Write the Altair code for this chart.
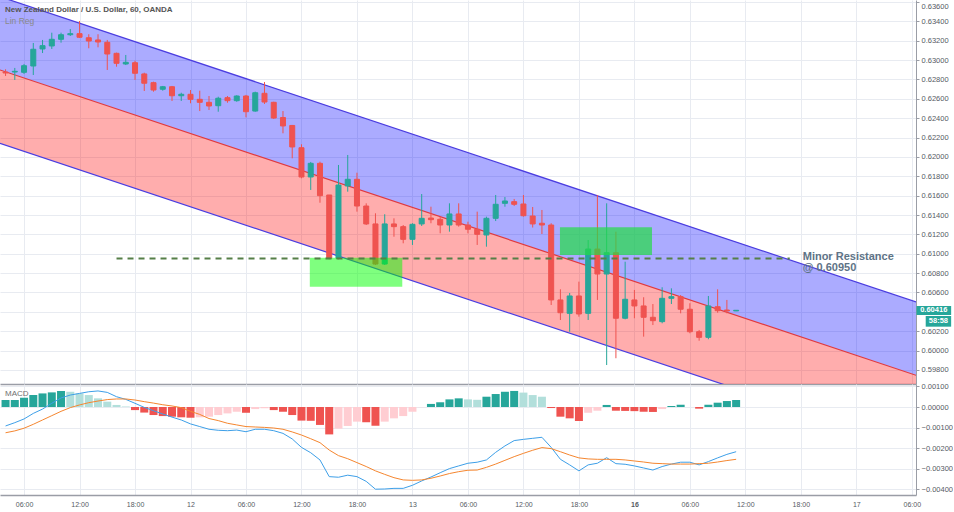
import altair as alt
import pandas as pd

FONT = "Liberation Sans"
UP = "#26a69a"
DN = "#ef5350"
GRID = "#e8ebf1"
AXC = "#9a9da6"
LBL = "#555a63"

title_text = "New Zealand Dollar / U.S. Dollar, 60, OANDA"
ind_text = "Lin Reg"
macd_text = "MACD"
res_text1 = "Minor Resistance"
res_text2 = "@ 0.60950"
last_price_text = "0.60416"
countdown_text = "58:58"

# ---- candles (hourly bars, index 0 = 11 Dec 04:00) ----
bar_index = list(range(80))
opens = [0.62877, 0.62877, 0.62874, 0.62939, 0.63115, 0.63146, 0.63215, 0.63262, 0.63273, 0.63231,
         0.63208, 0.63184, 0.63070, 0.62960, 0.62973, 0.62857, 0.62767, 0.62699, 0.62725, 0.62632,
         0.62647, 0.62595, 0.62564, 0.62529, 0.62612, 0.62581, 0.62629, 0.62474, 0.62657, 0.62564,
         0.62407, 0.62325, 0.62095, 0.61793, 0.61934, 0.61607, 0.60953, 0.61700, 0.61769, 0.61493,
         0.61308, 0.60894, 0.61308, 0.61280, 0.61149, 0.61308, 0.61369, 0.61356, 0.61297, 0.61411,
         0.61297, 0.61253, 0.61194, 0.61366, 0.61521, 0.61538, 0.61514, 0.61390, 0.61315, 0.61297,
         0.60523, 0.60385, 0.60564, 0.60385, 0.61049, 0.60791, 0.61011, 0.60334, 0.60523, 0.60461,
         0.60344, 0.60299, 0.60540, 0.60557, 0.60427, 0.60195, 0.60137, 0.60453, 0.60419, 0.60410]
highs = [0.62905, 0.62919, 0.62960, 0.63177, 0.63208, 0.63283, 0.63283, 0.63321, 0.63404, 0.63267,
         0.63267, 0.63208, 0.63077, 0.63053, 0.62994, 0.62870, 0.62777, 0.62733, 0.62733, 0.62663,
         0.62691, 0.62684, 0.62629, 0.62622, 0.62629, 0.62637, 0.62640, 0.62674, 0.62774, 0.62570,
         0.62474, 0.62330, 0.62131, 0.61948, 0.61951, 0.61607, 0.61917, 0.62020, 0.61837, 0.61521,
         0.61418, 0.61408, 0.61366, 0.61297, 0.61315, 0.61617, 0.61486, 0.61383, 0.61521, 0.61521,
         0.61331, 0.61435, 0.61383, 0.61607, 0.61586, 0.61566, 0.61607, 0.61483, 0.61452, 0.61315,
         0.60633, 0.60595, 0.60712, 0.61142, 0.61607, 0.61521, 0.61228, 0.60918, 0.60626, 0.60551,
         0.60481, 0.60654, 0.60643, 0.60574, 0.60489, 0.60213, 0.60564, 0.60633, 0.60523, 0.60418]
lows = [0.62836, 0.62795, 0.62857, 0.62846, 0.63073, 0.63115, 0.63180, 0.63249, 0.63228, 0.63122,
        0.63132, 0.62898, 0.62932, 0.62949, 0.62795, 0.62681, 0.62674, 0.62684, 0.62578, 0.62578,
        0.62554, 0.62474, 0.62485, 0.62467, 0.62560, 0.62570, 0.62409, 0.62467, 0.62547, 0.62392,
        0.62244, 0.61986, 0.61779, 0.61659, 0.61527, 0.60943, 0.60943, 0.61641, 0.61435, 0.61297,
        0.60884, 0.60884, 0.61176, 0.61108, 0.61091, 0.61287, 0.61315, 0.61211, 0.61228, 0.61280,
        0.61211, 0.61091, 0.61073, 0.61338, 0.61486, 0.61493, 0.61383, 0.61271, 0.61204, 0.60471,
        0.60316, 0.60195, 0.60350, 0.60316, 0.60523, 0.59851, 0.59921, 0.60323, 0.60334, 0.60144,
        0.60264, 0.60282, 0.60481, 0.60385, 0.60179, 0.60102, 0.60117, 0.60391, 0.60385, 0.60408]
closes = [0.62867, 0.62884, 0.62942, 0.63112, 0.63149, 0.63215, 0.63262, 0.63273, 0.63236, 0.63197,
          0.63187, 0.63063, 0.62967, 0.62977, 0.62864, 0.62761, 0.62691, 0.62725, 0.62632, 0.62647,
          0.62595, 0.62564, 0.62526, 0.62606, 0.62581, 0.62629, 0.62467, 0.62663, 0.62567, 0.62402,
          0.62320, 0.62103, 0.61793, 0.61934, 0.61600, 0.60953, 0.61710, 0.61769, 0.61493, 0.61308,
          0.60894, 0.61308, 0.61280, 0.61149, 0.61304, 0.61366, 0.61352, 0.61297, 0.61411, 0.61297,
          0.61253, 0.61201, 0.61366, 0.61511, 0.61545, 0.61511, 0.61393, 0.61308, 0.61297, 0.60523,
          0.60391, 0.60564, 0.60378, 0.61049, 0.60791, 0.61011, 0.60334, 0.60530, 0.60461, 0.60344,
          0.60309, 0.60540, 0.60557, 0.60427, 0.60195, 0.60137, 0.60461, 0.60412, 0.60409, 0.60416]

# ---- MACD panel ----
hist = [0.00034, 0.00034, 0.00045, 0.00058, 0.00066, 0.00071, 0.00078, 0.00074, 0.00066, 0.00058,
        0.00042, 0.00026, 0.00010, 0.00003, -0.00015, -0.00027, -0.00039, -0.00044, -0.00047, -0.00050,
        -0.00052, -0.00050, -0.00047, -0.00039, -0.00031, -0.00023, -0.00028, -0.00010, -0.00006, -0.00015,
        -0.00023, -0.00039, -0.00066, -0.00067, -0.00087, -0.00133, -0.00105, -0.00092, -0.00071, -0.00074,
        -0.00091, -0.00071, -0.00055, -0.00044, -0.00023, -0.00001, 0.00015, 0.00023, 0.00037, 0.00042,
        0.00037, 0.00035, 0.00050, 0.00063, 0.00074, 0.00078, 0.00070, 0.00058, 0.00050, -0.00005,
        -0.00047, -0.00055, -0.00068, -0.00028, -0.00018, 0.00010, -0.00018, -0.00019, -0.00020, -0.00023,
        -0.00024, -0.00010, 0.00005, 0.00011, 0.00000, -0.00008, 0.00011, 0.00021, 0.00029, 0.00034]
macd = [-0.00092, -0.00076, -0.00058, -0.00031, -0.00010, 0.00018, 0.00044, 0.00058, 0.00066, 0.00074,
        0.00078, 0.00071, 0.00050, 0.00037, 0.00018, -0.00002, -0.00018, -0.00034, -0.00049, -0.00063,
        -0.00082, -0.00095, -0.00108, -0.00113, -0.00115, -0.00112, -0.00120, -0.00108, -0.00108, -0.00115,
        -0.00128, -0.00155, -0.00196, -0.00222, -0.00257, -0.00338, -0.00341, -0.00331, -0.00338, -0.00361,
        -0.00399, -0.00398, -0.00395, -0.00395, -0.00380, -0.00359, -0.00340, -0.00319, -0.00299, -0.00286,
        -0.00273, -0.00268, -0.00257, -0.00220, -0.00189, -0.00163, -0.00157, -0.00152, -0.00147, -0.00196,
        -0.00254, -0.00281, -0.00310, -0.00281, -0.00273, -0.00246, -0.00275, -0.00278, -0.00286, -0.00296,
        -0.00306, -0.00289, -0.00277, -0.00268, -0.00268, -0.00281, -0.00265, -0.00247, -0.00230, -0.00217]
signal = [-0.00125, -0.00116, -0.00103, -0.00084, -0.00063, -0.00042, -0.00021, -0.00003, 0.00010, 0.00021,
          0.00029, 0.00036, 0.00039, 0.00039, 0.00034, 0.00026, 0.00019, 0.00011, 0.00005, -0.00003,
          -0.00021, -0.00036, -0.00056, -0.00066, -0.00079, -0.00087, -0.00095, -0.00097, -0.00099, -0.00102,
          -0.00108, -0.00121, -0.00136, -0.00154, -0.00173, -0.00209, -0.00236, -0.00251, -0.00270, -0.00289,
          -0.00310, -0.00327, -0.00343, -0.00354, -0.00356, -0.00354, -0.00346, -0.00335, -0.00323, -0.00314,
          -0.00307, -0.00306, -0.00293, -0.00277, -0.00259, -0.00241, -0.00225, -0.00210, -0.00197, -0.00202,
          -0.00217, -0.00233, -0.00247, -0.00252, -0.00254, -0.00254, -0.00254, -0.00257, -0.00262, -0.00267,
          -0.00273, -0.00275, -0.00277, -0.00277, -0.00277, -0.00275, -0.00273, -0.00267, -0.00260, -0.00254]

# ---- axes ----
tick_idx = [2, 8, 14, 20, 26, 32, 38, 44, 50, 56, 62, 68, 74, 80, 86, 92, 98]
tick_lbl = ["06:00", "12:00", "18:00", "12", "06:00", "12:00", "18:00", "13", "06:00",
            "12:00", "18:00", "16", "06:00", "12:00", "18:00", "17", "06:00"]
price_ticks = [0.598, 0.600, 0.602, 0.604, 0.606, 0.608, 0.610, 0.612, 0.614, 0.616,
               0.618, 0.620, 0.622, 0.624, 0.626, 0.628, 0.630, 0.632, 0.634, 0.636]
hidden_price_tick = 0.604  # covered by the last-price marker
macd_ticks = [-0.004, -0.003, -0.002, -0.001, 0.0, 0.001]

# ---- linear regression channel (two end points) ----
chan_x = [-0.6, 98.45]
chan_upper = [0.63655, 0.60502]
chan_mid = [0.62898, 0.59745]
chan_lower = [0.62141, 0.58988]

# ---- annotations ----
zone1 = {"x1": 32.9, "x2": 42.9, "lo": 0.60660, "hi": 0.60960}
zone2 = {"x1": 59.95, "x2": 69.9, "lo": 0.60987, "hi": 0.61273}
res_level = 0.6095
res_x = [12.0, 84.8]
res_label_x = 86.2
res_label_y = [0.60936, 0.60820]
last_price = 0.60416
box1 = {"x1": 98.5, "x2": 102.25, "lo": 0.60368, "hi": 0.60461, "xm": 100.37}
box2 = {"x1": 99.5, "x2": 102.25, "lo": 0.60247, "hi": 0.60357, "xm": 100.87, "ym": 0.60302}

xs = alt.Scale(domain=[-0.6, 98.45], nice=False, zero=False, padding=0)
ys = alt.Scale(domain=[0.59655, 0.636207], nice=False, zero=False, padding=0)
ms = alt.Scale(domain=[-0.004272, 0.001117], nice=False, zero=False, padding=0)

W = 916

XT = alt.Axis(values=tick_idx, labels=False, ticks=False, domain=True, domainColor=AXC,
              domainWidth=1.5, grid=True, gridColor=GRID, gridWidth=1, title=None)
YT = alt.Axis(orient="right", values=price_ticks, title=None, grid=True,
              labelExpr=f"abs(datum.value - {hidden_price_tick}) < 0.00001 ? '' : format(datum.value, '.5f')",
              gridColor=GRID, domain=True, domainColor=AXC, tickColor=AXC, tickSize=3,
              labelPadding=2, labelFontSize=7.5, labelColor=LBL, labelFont=FONT,
              labelOverlap=False, labelFlush=4)


def px(field):
    return alt.X(field, type="quantitative", scale=xs, axis=XT)


def py(field):
    return alt.Y(field, type="quantitative", scale=ys, axis=YT)


# ---- top panel ----
cdf = pd.DataFrame({"i": bar_index, "o": opens, "h": highs, "l": lows, "c": closes})
cdf["col"] = [UP if c >= o else DN for o, c in zip(opens, closes)]

band_df = pd.DataFrame({"x": chan_x, "upper": chan_upper, "mid": chan_mid, "lower": chan_lower})
upper_band = alt.Chart(band_df).mark_area(color="#0000ff", opacity=0.33, clip=True).encode(
    x=px("x"), y=py("upper"), y2=alt.Y2("mid"))
lower_band = alt.Chart(band_df).mark_area(color="#ff0000", opacity=0.32, clip=True).encode(
    x=px("x"), y=py("mid"), y2=alt.Y2("lower"))

line_df = pd.DataFrame({"x1": [chan_x[0]] * 3, "x2": [chan_x[1]] * 3,
                        "y1": [chan_upper[0], chan_mid[0], chan_lower[0]],
                        "y2": [chan_upper[1], chan_mid[1], chan_lower[1]],
                        "col": ["#4a3ce0", "#e0393e", "#4a3ce0"]})
chan_lines = alt.Chart(line_df).mark_rule(strokeWidth=1.2, clip=True).encode(
    x=px("x1"), x2=alt.X2("x2"), y=py("y1"), y2=alt.Y2("y2"),
    color=alt.Color("col:N", scale=None))

wicks = alt.Chart(cdf).mark_rule(strokeWidth=1).encode(
    x=px("i"), y=py("l"), y2=alt.Y2("h"), color=alt.Color("col:N", scale=None))
bodies = alt.Chart(cdf).mark_bar(size=5, strokeWidth=1).encode(
    x=px("i"), y=py("o"), y2=alt.Y2("c"),
    color=alt.Color("col:N", scale=None), stroke=alt.Stroke("col:N", scale=None))

z1 = alt.Chart(pd.DataFrame([zone1])).mark_rect(color="#00ff00", opacity=0.5).encode(
    x=px("x1"), x2=alt.X2("x2"), y=py("lo"), y2=alt.Y2("hi"))
z2 = alt.Chart(pd.DataFrame([zone2])).mark_rect(color="#22dd44", opacity=0.7).encode(
    x=px("x1"), x2=alt.X2("x2"), y=py("lo"), y2=alt.Y2("hi"))

res_df = pd.DataFrame({"x1": [res_x[0]], "x2": [res_x[1]], "y": [res_level]})
res_line = alt.Chart(res_df).mark_rule(strokeDash=[6, 5], strokeWidth=2, color="#557f48").encode(
    x=px("x1"), x2=alt.X2("x2"), y=py("y"))

res_lbl_df = pd.DataFrame({"x": [res_label_x, res_label_x], "y": res_label_y, "t": [res_text1, res_text2]})
res_lbl = alt.Chart(res_lbl_df).mark_text(align="left", baseline="alphabetic", font=FONT, fontSize=11,
                                          fontWeight="bold", color="#5e7386").encode(
    x=px("x"), y=py("y"), text="t:N")

b1 = alt.Chart(pd.DataFrame([box1])).mark_rect(color=UP, clip=False).encode(
    x=px("x1"), x2=alt.X2("x2"), y=py("lo"), y2=alt.Y2("hi"))
b1t = alt.Chart(pd.DataFrame({"x": [box1["xm"]], "y": [last_price], "t": [last_price_text]})).mark_text(
    font=FONT, fontSize=7.5, fontWeight="bold", color="white", clip=False).encode(
    x=px("x"), y=py("y"), text="t:N")
b2 = alt.Chart(pd.DataFrame([box2])).mark_rect(color=UP, clip=False).encode(
    x=px("x1"), x2=alt.X2("x2"), y=py("lo"), y2=alt.Y2("hi"))
b2t = alt.Chart(pd.DataFrame({"x": [box2["xm"]], "y": [box2["ym"]], "t": [countdown_text]})).mark_text(
    font=FONT, fontSize=7.5, fontWeight="bold", color="white", clip=False).encode(
    x=px("x"), y=py("y"), text="t:N")

title_mark = alt.Chart(pd.DataFrame({"t": [title_text]})).mark_text(
    align="left", baseline="middle", font=FONT, fontSize=8, fontWeight="bold", color="#555555").encode(
    x=alt.value(5), y=alt.value(10), text="t:N")
ind_mark = alt.Chart(pd.DataFrame({"t": [ind_text]})).mark_text(
    align="left", baseline="middle", font=FONT, fontSize=8.5, color="#8a8a8a").encode(
    x=alt.value(5), y=alt.value(21), text="t:N")

top = alt.layer(upper_band, lower_band, chan_lines, wicks, bodies, z1, z2, res_line, res_lbl,
                b1, b1t, b2, b2t, title_mark, ind_mark).properties(width=W, height=384)

# ---- MACD panel ----
hcol = []
for k, v in enumerate(hist):
    prev = hist[k - 1] if k > 0 else v
    if v >= 0:
        hcol.append("#26a69a" if v >= prev else "#b2dfdb")
    else:
        hcol.append("#ef5350" if v <= prev else "#ffcdd2")
mdf = pd.DataFrame({"i": bar_index, "hist": hist, "zero": [0.0] * len(hist), "col": hcol,
                    "macd": macd, "signal": signal})

labels_js = "[" + ",".join("'%s'" % s for s in tick_lbl) + "]"
values_js = "[" + ",".join(str(v) for v in tick_idx) + "]"
XB = alt.Axis(values=tick_idx, labelExpr=f"{labels_js}[indexof({values_js}, datum.value)]",
              grid=True, gridColor=GRID, domain=True, domainColor=AXC, domainWidth=1.5,
              ticks=False, tickSize=0, labelPadding=5, labelFontSize=7, labelColor=LBL,
              labelFont=FONT, labelFlush=False, labelOverlap=False, title=None,
              labelFontWeight=alt.condition("datum.value == 68", alt.value("bold"), alt.value("normal")))
YB = alt.Axis(orient="right", values=macd_ticks, format=".5f", title=None, grid=True,
              gridColor=GRID, domain=True, domainColor=AXC, tickColor=AXC, tickSize=3,
              labelPadding=2, labelFontSize=7.5, labelColor=LBL, labelFont=FONT,
              labelOverlap=False)


def mx(field):
    return alt.X(field, type="quantitative", scale=xs, axis=XB)


def my(field):
    return alt.Y(field, type="quantitative", scale=ms, axis=YB)


hbars = alt.Chart(mdf).mark_bar(size=8).encode(
    x=mx("i"), y=my("hist"), y2=alt.Y2("zero"), color=alt.Color("col:N", scale=None))
mline = alt.Chart(mdf).mark_line(color="#3d9fe8", strokeWidth=1).encode(x=mx("i"), y=my("macd"))
sline = alt.Chart(mdf).mark_line(color="#f5862f", strokeWidth=1).encode(x=mx("i"), y=my("signal"))
macd_lbl = alt.Chart(pd.DataFrame({"t": [macd_text]})).mark_text(
    align="left", baseline="middle", font=FONT, fontSize=8, color="#707070").encode(
    x=alt.value(5), y=alt.value(10), text="t:N")

bottom = alt.layer(hbars, mline, sline, macd_lbl).properties(width=W, height=111)

chart = alt.vconcat(top, bottom, spacing=0, bounds="flush").properties(
    padding={"left": 0, "top": 0, "right": 0, "bottom": 0}, background="white"
).configure_view(stroke=None)

chart.save("out.html", embed_options={"renderer": "svg", "actions": False})
